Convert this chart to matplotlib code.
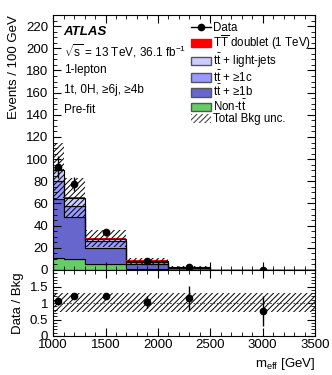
import numpy as np
import matplotlib
matplotlib.use('Agg')
import matplotlib.pyplot as plt
from matplotlib.patches import Patch
from matplotlib.lines import Line2D
from matplotlib.ticker import MultipleLocator

plt.rcParams['font.family'] = ['Liberation Sans', 'DejaVu Sans']
plt.rcParams['mathtext.fontset'] = 'custom'
plt.rcParams['mathtext.rm'] = 'Liberation Sans'
plt.rcParams['mathtext.it'] = 'Liberation Sans:italic'
plt.rcParams['hatch.linewidth'] = 0.7

# bin edges (GeV) and contents (events / 100 GeV)
edges = [1000, 1100, 1300, 1700, 2100, 2500, 3500]
non_tt = [11, 10, 5, 1.0, 0.3, 0.05]
tt_1b = [53, 37.5, 15, 4.8, 1.6, 0.1]
tt_1c = [16, 10.5, 6, 1.5, 0.3, 0.03]
tt_light = [10, 7, 2.3, 1.0, 0.2, 0.02]
signal = [0.8, 0.8, 1.0, 1.0, 0.5, 0.1]
bkg_unc = [25, 18, 8, 2.5, 1.0, 0.1]

data_x = [1050, 1200, 1500, 1900, 2300, 3000]
data_y = [93, 77.5, 34, 8, 2.5, 0.15]
data_err = [9.6, 6.2, 2.9, 1.4, 0.8, 0.2]

ratio = [1.05, 1.2, 1.22, 1.02, 1.15, 0.75]
ratio_err = [0.1, 0.08, 0.09, 0.18, 0.37, 0.45]
ratio_band = [0.72, 1.3]

fig = plt.figure(figsize=(3.32, 3.75), dpi=100)
ax = fig.add_axes([0.160, 0.280, 0.789, 0.680])
rax = fig.add_axes([0.160, 0.104, 0.789, 0.176], sharex=ax)

# stacked histogram
layers = [
    (non_tt, '#66cc66'),
    (tt_1b, '#6666cc'),
    (tt_1c, '#9999ff'),
    (tt_light, '#ccccff'),
]
base = np.zeros(len(non_tt))
for vals, col in layers:
    top = base + np.array(vals)
    ax.stairs(top, edges, baseline=base, fill=True, facecolor=col,
              edgecolor='black', linewidth=0.8)
    base = top
bkg = base.copy()
ax.stairs(bkg + np.array(signal), edges, baseline=bkg, fill=True,
          facecolor='#ff0000', linewidth=0)

# uncertainty band
unc = np.array(bkg_unc)
ax.stairs(bkg + unc, edges, baseline=bkg - unc, fill=False, hatch='//////',
          edgecolor='black', linewidth=0)

ax.errorbar(data_x, data_y, yerr=data_err, fmt='o', color='black',
            markersize=4.5, elinewidth=1, capsize=0, zorder=5)

ax.set_xlim(1000, 3500)
ax.set_ylim(0, 230)
ax.yaxis.set_major_locator(MultipleLocator(20))
ax.yaxis.set_minor_locator(MultipleLocator(5))
ax.xaxis.set_major_locator(MultipleLocator(500))
ax.xaxis.set_minor_locator(MultipleLocator(100))
ax.tick_params(which='both', direction='in', top=True, right=True,
               labelbottom=False, labelsize=9.5)
ax.tick_params(which='major', length=6)
ax.tick_params(which='minor', length=3)
ax.set_ylabel('Events / 100 GeV', fontsize=9.5, loc='top')

ax.text(0.04, 0.935, 'ATLAS', transform=ax.transAxes, fontsize=9.5,
        fontweight='bold', style='italic', va='center')
lines = [r'$\sqrt{\mathrm{s}}$ = 13 TeV, 36.1 fb$^{-1}$', '1-lepton',
         '1t, 0H, \u22656j, \u22654b', 'Pre-fit']
for i, t in enumerate(lines):
    ax.text(0.04, 0.86 - i * 0.077, t, transform=ax.transAxes,
            fontsize=8.5, va='center')

handles = [
    Line2D([], [], color='black', marker='o', markersize=4.5, lw=1),
    Patch(facecolor='#ff0000', edgecolor='#ff0000'),
    Patch(facecolor='#ccccff', edgecolor='#555555'),
    Patch(facecolor='#9999ff', edgecolor='#555555'),
    Patch(facecolor='#6666cc', edgecolor='#555555'),
    Patch(facecolor='#66cc66', edgecolor='#555555'),
    Patch(facecolor='none', edgecolor='#333333', hatch='//////', lw=0),
]
labels = ['Data', r'$\mathrm{T\overline{T}}$ doublet (1 TeV)',
          r'$\mathrm{t\bar{t}}$ + light-jets', '$\\mathrm{t\\bar{t}}$ + \u22651c',
          '$\\mathrm{t\\bar{t}}$ + \u22651b', r'Non-$\mathrm{t\bar{t}}$',
          'Total Bkg unc.']
ax.legend(handles, labels, loc='upper left', bbox_to_anchor=(0.5, 1.0),
          frameon=False, fontsize=8.3, handlelength=1.7, handleheight=0.75,
          handletextpad=0.25, labelspacing=-0.05, borderaxespad=0.3,
          borderpad=0.3)

# ratio panel
rax.fill_between([1000, 3500], ratio_band[0], ratio_band[1], facecolor='none',
                 hatch='//////', edgecolor='black', linewidth=0)
rax.axhline(1, color='#444444', lw=0.8, ls=(0, (1.5, 1.5)))
rax.errorbar(data_x, ratio, yerr=ratio_err, fmt='o', color='black',
             markersize=4.5, elinewidth=1, capsize=0, zorder=5)
rax.set_ylim(0, 2)
rax.set_yticks([0, 0.5, 1, 1.5])
rax.set_yticklabels(['0', '0.5', '1', '1.5'])
rax.yaxis.set_minor_locator(MultipleLocator(0.1))
rax.tick_params(which='both', direction='in', top=True, right=True,
                labelsize=9.5)
rax.tick_params(axis='x', pad=2)
rax.tick_params(which='major', length=6)
rax.tick_params(which='minor', length=3)
rax.set_ylabel('Data / Bkg', fontsize=9.5)
rax.set_xlabel(r'm$_{\mathrm{eff}}$ [GeV]', fontsize=9.5, loc='right')
fig.align_ylabels([ax, rax])

fig.savefig('out.png', dpi=100)
